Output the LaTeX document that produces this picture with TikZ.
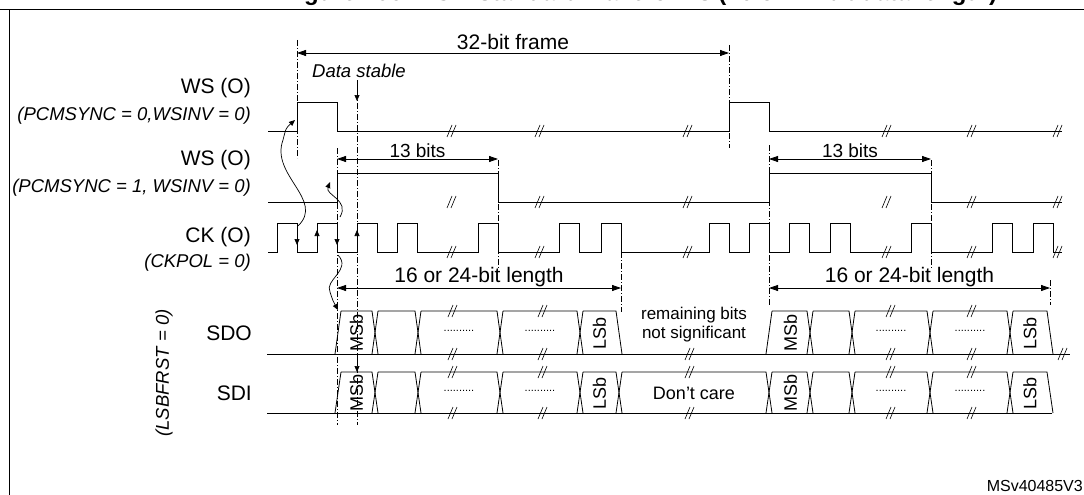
\documentclass[tikz,border=0pt]{standalone}
\usepackage{fontspec}
\setmainfont{Liberation Sans}
\usetikzlibrary{arrows.meta}
\tikzset{
  sig/.style={line width=0.8pt},
  dd/.style={line width=0.6pt,dash pattern=on 6pt off 2pt on 1pt off 2pt},
  dim/.style={line width=0.8pt,{Triangle[length=9pt,width=6pt]}-{Triangle[length=9pt,width=6pt]}},
  tip/.style={line width=0.7pt,-{Triangle[length=6pt,width=5pt]}},
  brk/.pic={\draw[line width=0.6pt] (-5,6)--(0,-6) (-1,6)--(4,-6);},
  lbl/.style={font=\fontsize{21}{24}\selectfont,inner sep=1pt},
  sub/.style={font=\fontsize{18.5}{21}\selectfont\itshape,inner sep=1pt},
  bit/.style={font=\fontsize{18}{20}\selectfont,rotate=90,inner sep=0pt},
  dots/.style={font=\fontsize{11}{12}\selectfont},
}
\newcommand\buscell[4]{% x1, x2, top, bottom
  \draw[sig] (#1+3,#3)--(#2-3,#3)--(#2+3,#4) (#1-3,#4)--(#1+3,#3);}
\begin{document}
\begin{tikzpicture}[x=1pt,y=-1pt]
\useasboundingbox (0,0) rectangle (1084,495);
\node[font=\fontsize{24}{26}\selectfont\bfseries,anchor=base] (title) at (640,1)
  {Figure 706. PCM standard waveforms (16 or 24-bit data length)};
\draw[line width=1pt] (0,10) -- (1084,10);
\draw[line width=1pt] (9,10) -- (9,495);

% labels
\node[lbl,anchor=east] (ws1) at (252,88) {WS (O)};
\node[sub,anchor=east] (ws1s) at (252,116) {(PCMSYNC = 0,WSINV = 0)};
\node[lbl,anchor=east] (ws2) at (252,160) {WS (O)};
\node[sub,anchor=east] (ws2s) at (252,188) {(PCMSYNC = 1, WSINV = 0)};
\node[lbl,anchor=east] (ck) at (252,237) {CK (O)};
\node[sub,anchor=east] (cks) at (252,263) {(CKPOL = 0)};
\node[sub,rotate=90] (lsb) at (164,373) {(LSBFRST = 0)};
\node[lbl,anchor=east] (sdo) at (253,333) {SDO};
\node[lbl,anchor=east] (sdi) at (253,393) {SDI};
\node[font=\fontsize{16}{18}\selectfont,anchor=south east,inner sep=1pt] (ref) at (1084,493) {MSv40485V3};

% waveforms
\draw[sig] (268,131) -| (297,102) -| (337,131) -| (729,102) -| (769,131) -- (1062,131);
\draw[sig] (268,202) -| (337,173) -| (498,202) -| (769,173) -| (931,202) -- (1062,202);
\draw[sig] (268,252) -| (277,223) -| (297,252) -| (317,223) -| (337,252) -| (357,223)
  -| (377,252) -| (397,223) -| (417,252) -| (478,223) -| (498,252) -| (559,223)
  -| (579,252) -| (601,223) -| (621,252) -| (709,223) -| (729,252) -| (749,223)
  -| (769,252) -| (789,223) -| (809,252) -| (830,223) -| (850,252) -| (911,223)
  -| (931,252) -| (992,223) -| (1012,252) -| (1033,223) -| (1053,252) -- (1062,252);
\foreach \x in {452,540,688,887,972,1058}
  \foreach \y in {131,202,252}
    \pic at (\x,\y) {brk};

% data lines
\draw[sig] (267,354) -- (1070,354);
\draw[sig] (267,413) -- (1052,413);
\foreach \a/\b in {338/375,375/418,418/500,500/580,580/619,769/810,810/852,852/930,930/1010,1010/1050}{
  \buscell{\a}{\b}{311}{354}
  \buscell{\a}{\b}{372}{413}}
\buscell{619}{769}{372}{413}
\foreach \x in {356.5,790.5}{
  \node[bit] at (\x,333) {MSb};
  \node[bit] at (\x,393) {MSb};}
\foreach \x in {599.5,1030}{
  \node[bit] at (\x,333) {LSb};
  \node[bit] at (\x,393) {LSb};}
\foreach \x in {459,540,891,970}{
  \node[dots] at (\x,331) {..........};
  \node[dots] at (\x,391) {..........};}
\foreach \x in {453,543,891,972}
  \foreach \y in {311,354,372,413}
    \pic at (\x,\y) {brk};
\pic at (690,354) {brk};
\pic at (690,372) {brk};
\pic at (690,413) {brk};
\pic at (1063,354) {brk};
\node[font=\fontsize{17}{19}\selectfont,align=center] (rem) at (694,325) {remaining bits\\not significant};
\node[font=\fontsize{18}{20}\selectfont] (dc) at (694,393) {Don't care};

% timing marks
\draw[dd] (297,40) -- (297,158);
\draw[dd] (729,45) -- (729,148);
\draw[dd] (337,148) -- (337,425);
\draw[dd] (357,92) -- (357,425);
\draw[dd] (498,160) -- (498,268);
\draw[dd] (621,252) -- (621,312);
\draw[dd] (769,145) -- (769,305);
\draw[dd] (931,160) -- (931,268);
\draw[dd] (1050,280) -- (1050,305);

\coordinate (f0) at (297,53);
\coordinate (f1) at (729,53);
\draw[dim] (f0) -- node[lbl,above=2pt] {32-bit frame} (f1);
\coordinate (a0) at (337,159);
\coordinate (a1) at (498,159);
\draw[dim] (a0) -- node[font=\fontsize{19}{21}\selectfont,above=0pt,inner sep=1pt] {13 bits} (a1);
\coordinate (b0) at (769,159);
\coordinate (b1) at (931,159);
\draw[dim] (b0) -- node[font=\fontsize{19}{21}\selectfont,above=0pt,inner sep=1pt] {13 bits} (b1);
\coordinate (c0) at (337,288);
\coordinate (c1) at (621,288);
\draw[dim] (c0) -- node[lbl,above=0pt] {16 or 24-bit length} (c1);
\coordinate (d0) at (769,288);
\coordinate (d1) at (1050,288);
\draw[dim] (d0) -- node[lbl,above=0pt] {16 or 24-bit length} (d1);

\node[font=\fontsize{18.5}{20}\selectfont\itshape,anchor=west,inner sep=1pt] (stab) at (311,71) {Data stable};
\coordinate (s0) at (357,80);
\coordinate (s1) at (357,101);
\draw[tip] (s0) -- (s1);
\coordinate (s2) at (357,354);
\coordinate (s3) at (357,372);
\draw[tip] (s2) -- (s3);

% clock edge arrows
\foreach \x in {297,337}
  \draw[tip] (\x,226) -- (\x,245);
\foreach \x in {317,357}
  \draw[tip] (\x,249) -- (\x,230);

% launch curves
\draw[tip] (298,226) .. controls (325,200) and (270,175) .. (283,140) .. controls (286,128) .. (295,120);
\draw[tip] (340,217) .. controls (350,200) and (325,195) .. (330,182);
\draw[tip] (338,255) .. controls (352,270) and (324,280) .. (330,292) .. controls (333,301) .. (338,310);
\end{tikzpicture}
\end{document}
